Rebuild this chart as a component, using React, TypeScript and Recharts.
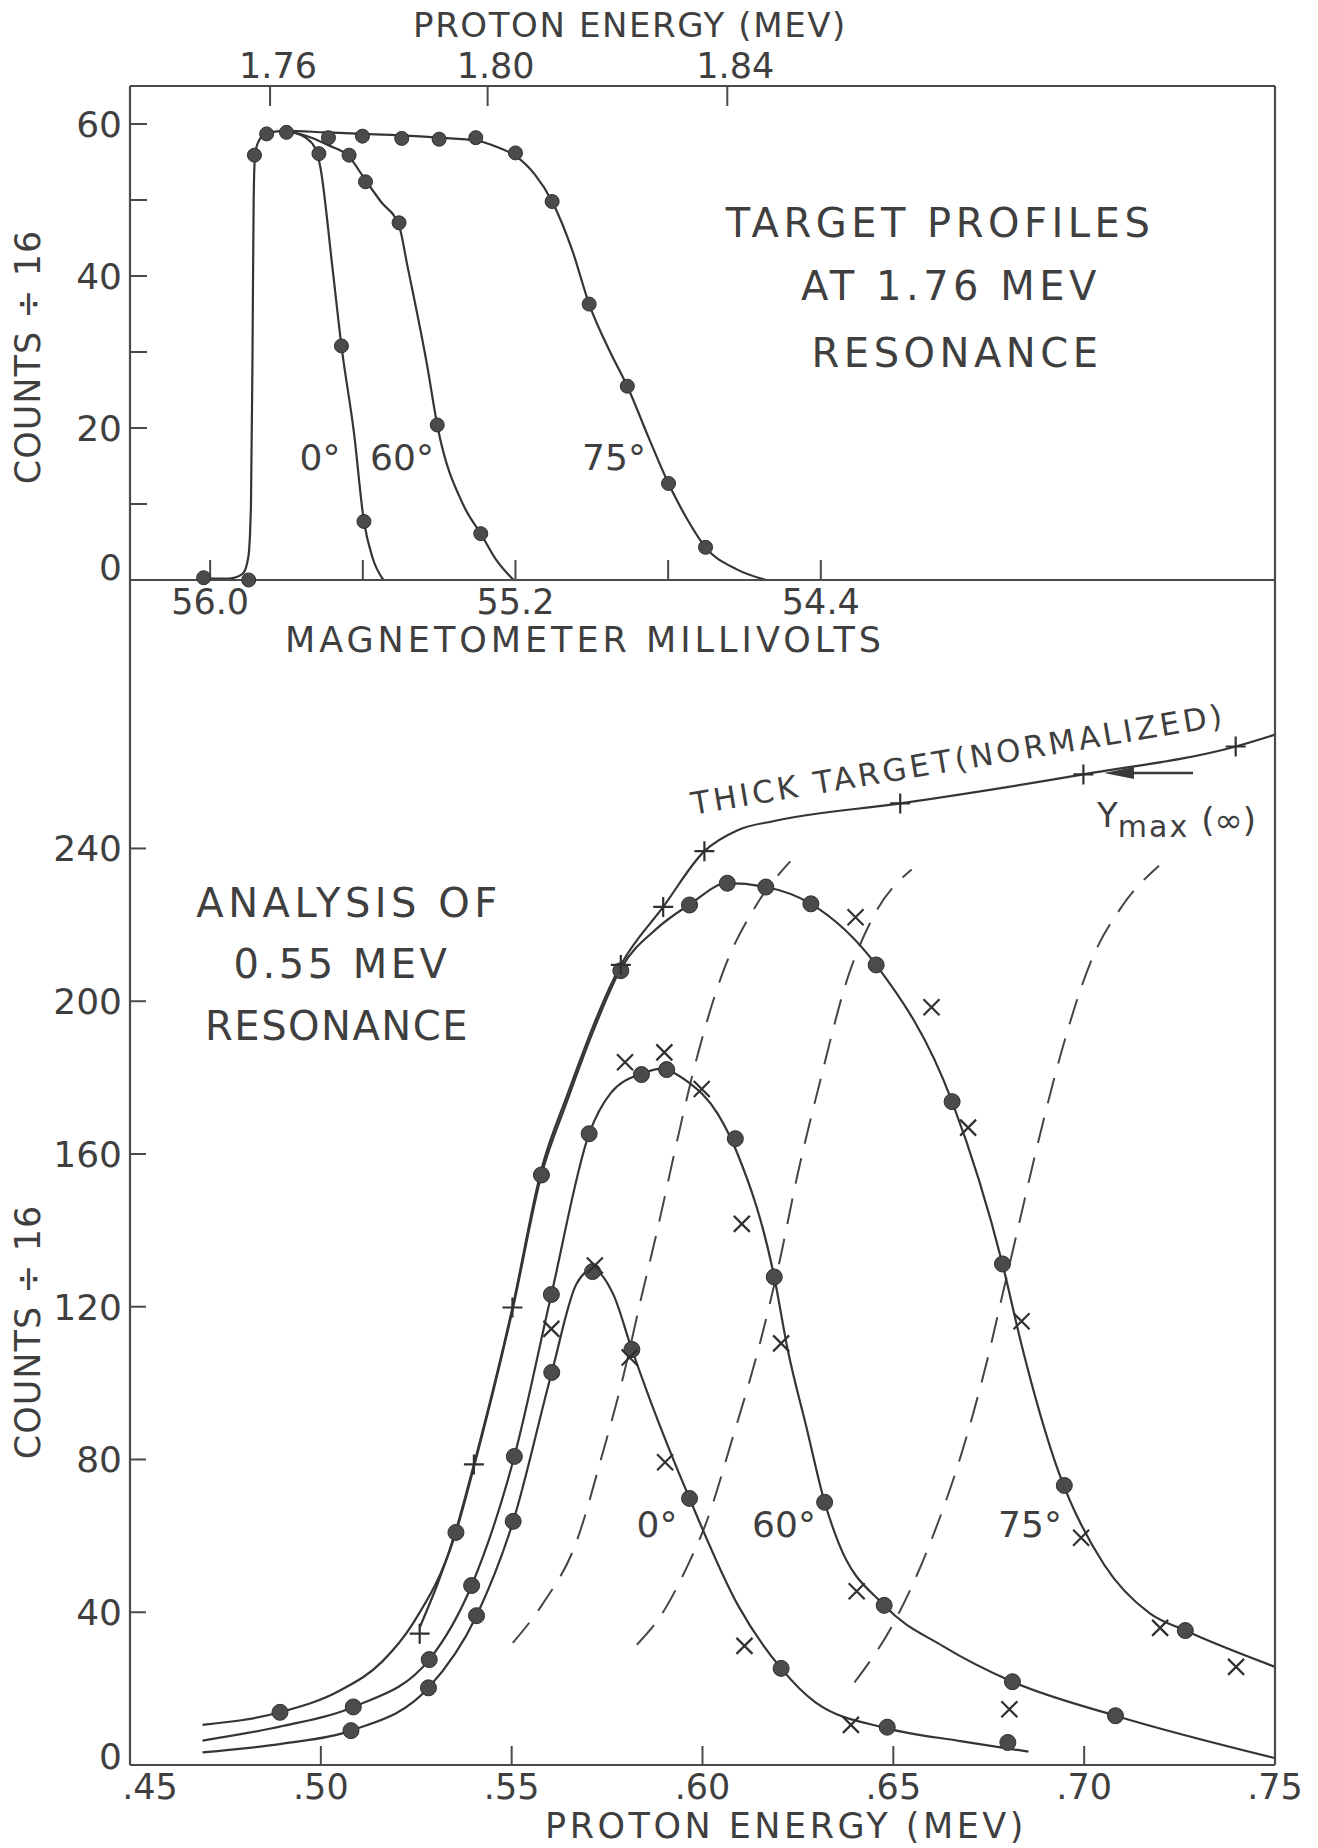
import React from 'react';
import { ComposedChart, Line, Scatter, XAxis, YAxis } from 'recharts';

type Pt = [number, number];

// ---------- top panel: target profiles at the 1.76 MeV resonance ----------
// x = magnetometer millivolts (axis runs high -> low), y = counts / 16
const mvTicks = [56.0, 55.6, 55.2, 54.8, 54.4];
const mvTickLabels = ['56.0', '', '55.2', '', '54.4'];
const energyTickMv = [55.843, 55.273, 54.645];
const energyTickLabels = ['1.76', '1.80', '1.84'];
const profileTicks = [0, 10, 20, 30, 40, 50, 60];

const profile75Curve: Pt[] = [
  [56.017, 0.2], [55.95, 0.2], [55.915, 0.8], [55.9, 3], [55.893, 10], [55.889, 30], [55.886, 50],
  [55.882, 56.2], [55.87, 58.0], [55.852, 58.8], [55.8, 59.1], [55.7, 58.9], [55.6, 58.7],
  [55.5, 58.5], [55.4, 58.2], [55.3, 57.8], [55.25, 57.0], [55.2, 55.8], [55.15, 53.4],
  [55.104, 49.8], [55.05, 43.2], [55.007, 36.3], [54.95, 29.8], [54.907, 25.5], [54.85, 18.6],
  [54.799, 12.7], [54.75, 8.0], [54.702, 4.3], [54.62, 1.4], [54.544, 0],
];
const profile0Curve: Pt[] = [
  [55.8, 59.1], [55.75, 58.2], [55.725, 56.8], [55.712, 54.5], [55.68, 41.3], [55.656, 30.8],
  [55.623, 19.3], [55.597, 7.7], [55.575, 3.0], [55.546, 0],
];
const profile60Curve: Pt[] = [
  [55.8, 59.1], [55.74, 58.3], [55.69, 57.2], [55.636, 55.7], [55.593, 52.6], [55.553, 49.8],
  [55.505, 46.6], [55.483, 41.3], [55.431, 28.1], [55.405, 20.4], [55.335, 9.7], [55.291, 6.1],
  [55.25, 2.6], [55.205, 0],
];
const profile75Dots: Pt[] = [
  [56.017, 0.3], [55.899, 0], [55.884, 55.9], [55.852, 58.7], [55.8, 58.9], [55.69, 58.2],
  [55.601, 58.4], [55.498, 58.1], [55.4, 58.0], [55.304, 58.2], [55.2, 56.2], [55.104, 49.8],
  [55.007, 36.3], [54.907, 25.5], [54.799, 12.7], [54.702, 4.3],
];
const profile0Dots: Pt[] = [[55.715, 56.1], [55.656, 30.8], [55.597, 7.7]];
const profile60Dots: Pt[] = [[55.636, 55.9], [55.593, 52.4], [55.505, 47.0], [55.405, 20.4], [55.291, 6.1]];

// ---------- bottom panel: analysis of the 0.55 MeV resonance ----------
const energyTicks = [0.45, 0.5, 0.55, 0.6, 0.65, 0.7, 0.75];
const countTicks = [0, 40, 80, 120, 160, 200, 240];

const curve0: Pt[] = [
  [0.469, 3.3], [0.49, 5.6], [0.5079, 9.0], [0.5282, 20.2], [0.5408, 39.1], [0.5504, 63.8],
  [0.5605, 102.8], [0.567, 126.0], [0.5712, 129.8], [0.5766, 123.3], [0.5815, 108.8], [0.5863, 95.5],
  [0.5966, 69.8], [0.6092, 42.0], [0.6206, 25.3], [0.6296, 16.4], [0.6484, 9.6], [0.668, 6.2], [0.6854, 3.5],
];
const curve60: Pt[] = [
  [0.469, 6.4], [0.49, 10.2], [0.5085, 15.2], [0.5284, 27.6], [0.5395, 47.0], [0.5507, 80.8],
  [0.5604, 123.2], [0.5703, 165.3], [0.576, 176.0], [0.584, 181.0], [0.589, 182.3], [0.596, 179.0],
  [0.604, 170.5], [0.6092, 160.0], [0.6188, 127.8], [0.6224, 108.4], [0.6272, 88.6], [0.632, 68.8],
  [0.6356, 58.3], [0.6476, 41.8], [0.6632, 31.0], [0.6812, 21.8], [0.7082, 12.9], [0.75, 1.8],
];
const curve75: Pt[] = [
  [0.469, 10.5], [0.4893, 13.8], [0.505, 19.5], [0.516, 27.0], [0.5241, 37.0], [0.5354, 60.9],
  [0.5401, 78.0], [0.5502, 119.0], [0.5578, 154.5], [0.5644, 173.5], [0.5715, 192.5], [0.5786, 208.5],
  [0.588, 219.0], [0.5966, 225.3], [0.6065, 230.9], [0.6166, 229.9], [0.6284, 225.5], [0.6455, 209.5],
  [0.6654, 173.7], [0.6786, 131.2], [0.6836, 110.0], [0.6932, 77.0], [0.7052, 52.5], [0.7172, 39.7],
  [0.7265, 35.2], [0.75, 25.7],
];
const thickCurve: Pt[] = [
  [0.5259, 36.0], [0.5354, 61.5], [0.5401, 78.7], [0.5502, 119.8], [0.5578, 156.0], [0.5644, 175.0],
  [0.5786, 209.5], [0.5897, 224.7], [0.6005, 239.3], [0.6092, 244.8], [0.6188, 247.2], [0.6518, 251.8],
  [0.6998, 259.4], [0.7397, 266.7], [0.75, 269.8],
];
const dash0: Pt[] = [
  [0.5503, 32.0], [0.558, 42.0], [0.5668, 58.0], [0.5738, 81.5], [0.5793, 102.0], [0.5841, 123.0],
  [0.5878, 138.5], [0.5937, 165.0], [0.5972, 180.0], [0.6055, 208.0], [0.614, 225.0], [0.623, 236.6],
];
const dash60: Pt[] = [
  [0.5828, 31.5], [0.589, 39.0], [0.596, 52.0], [0.6008, 63.0], [0.608, 86.0], [0.6152, 111.0],
  [0.62, 131.0], [0.625, 155.0], [0.6308, 179.0], [0.638, 206.0], [0.6452, 223.0], [0.6548, 234.5],
];
const dash75: Pt[] = [
  [0.6398, 21.6], [0.65, 37.0], [0.6596, 58.0], [0.668, 82.0], [0.6746, 106.0], [0.6788, 124.0],
  [0.683, 142.0], [0.6872, 160.0], [0.6944, 188.0], [0.7016, 210.0], [0.71, 225.0], [0.7196, 235.5],
];

const dots0: Pt[] = [
  [0.5079, 9.0], [0.5282, 20.2], [0.5408, 39.1], [0.5504, 63.8], [0.5605, 102.8], [0.5712, 129.2],
  [0.5815, 108.8], [0.5966, 69.8], [0.6206, 25.3], [0.6484, 9.9], [0.68, 5.9],
];
const dots60: Pt[] = [
  [0.5085, 15.2], [0.5284, 27.6], [0.5395, 47.0], [0.5507, 80.8], [0.5604, 123.2], [0.5703, 165.3],
  [0.584, 180.8], [0.5906, 182.1], [0.6086, 164.0], [0.6188, 127.8], [0.632, 68.8], [0.6476, 41.8],
  [0.6812, 21.8], [0.7082, 12.9],
];
const dots75: Pt[] = [
  [0.4893, 13.8], [0.5354, 60.9], [0.5578, 154.5], [0.5786, 208.0], [0.5966, 225.2], [0.6065, 230.9],
  [0.6166, 229.9], [0.6284, 225.5], [0.6455, 209.5], [0.6654, 173.7], [0.6786, 131.2], [0.6948, 73.2],
  [0.7265, 35.2],
];
const cross0: Pt[] = [[0.5718, 130.8], [0.5809, 106.7], [0.5902, 79.3], [0.611, 31.2], [0.6389, 10.5]];
const cross60: Pt[] = [
  [0.5604, 114.2], [0.5797, 184.0], [0.59, 186.6], [0.5998, 177.0], [0.6103, 141.7], [0.6206, 110.4],
  [0.6404, 45.5], [0.6804, 14.6],
];
const cross75: Pt[] = [[0.6401, 222.0], [0.66, 198.4], [0.6696, 166.9], [0.6836, 116.2], [0.6992, 59.5], [0.7199, 35.9], [0.7398, 25.7]];
const plusThick: Pt[] = [
  [0.5259, 34.4], [0.5401, 78.7], [0.5502, 119.8], [0.5786, 209.5], [0.5897, 224.7], [0.6005, 239.3],
  [0.6518, 251.8], [0.6998, 259.4], [0.7397, 266.7],
];

const FONT = "'DejaVu Sans', 'Liberation Sans', sans-serif";
const INK = '#3f3f3f';
const LINE = '#353535';
const AXIS = '#4a4a4a';

const toXY = (pts: Pt[]) => pts.map(([x, y]) => ({ x, y }));

const dotShape = (r: number) => (p: any) => (
  <circle cx={p.cx} cy={p.cy} r={r} fill="#4b4b4b" stroke="#2f2f2f" strokeWidth={1} />
);
const crossShape = (p: any) => {
  const s = 8;
  return (
    <path
      d={`M${p.cx - s},${p.cy - s}L${p.cx + s},${p.cy + s}M${p.cx - s},${p.cy + s}L${p.cx + s},${p.cy - s}`}
      stroke="#303030" strokeWidth={2.2} fill="none"
    />
  );
};
const plusShape = (p: any) => {
  const s = 10;
  return (
    <path
      d={`M${p.cx - s},${p.cy}L${p.cx + s},${p.cy}M${p.cx},${p.cy - s}L${p.cx},${p.cy + s}`}
      stroke="#303030" strokeWidth={2.2} fill="none"
    />
  );
};

const tickText = { fontSize: 35, fill: INK, fontFamily: FONT };

const leftTick = (labelOf: (v: number) => string, zeroLift: number) => (props: any) => {
  const { x, y, payload } = props;
  const label = labelOf(payload.value);
  if (!label) return <g />;
  const lift = payload.value === 0 ? zeroLift : 0;
  return (
    <text x={x} y={y - lift} dy="0.36em" textAnchor="end" {...tickText} fontSize={36}>{label}</text>
  );
};

const bottomTick = (labelOf: (v: number) => string, firstShift: number) => (props: any) => {
  const { x, y, payload, index } = props;
  const label = labelOf(payload.value);
  if (!label) return <g />;
  return (
    <text x={x + (index === 0 ? firstShift : 0)} y={y} dy="0.72em" textAnchor="middle" {...tickText}>{label}</text>
  );
};

const topTick = (props: any) => {
  const { x, y, payload } = props;
  const i = energyTickMv.findIndex((v) => Math.abs(v - payload.value) < 1e-6);
  return (
    <text x={x + 8} y={y} textAnchor="middle" {...tickText}>{energyTickLabels[i] ?? ''}</text>
  );
};

const W = 1318;
const H = 1848;
const PLOT_LEFT = 130;
const PLOT_RIGHT = 1275;
const TOP_Y0 = 86;
const MID_Y = 580;
const BOT_Y1 = 1765;
// axes get a 1px box (a zero-size axis is not drawn), so margins give that pixel back
const AX = 1;
const MV_DOMAIN: [number, number] = [53.21, 56.21];

const lineProps = { type: 'monotone' as const, dot: false, activeDot: false, isAnimationActive: false };

function TopPanel() {
  return (
    <ComposedChart
      width={W}
      height={H}
      margin={{ top: TOP_Y0 - AX, right: W - PLOT_RIGHT - AX, bottom: H - MID_Y - AX, left: PLOT_LEFT - AX }}
      style={{ position: 'absolute', left: 0, top: 0 }}
    >
      <XAxis
        xAxisId="mv" dataKey="x" type="number" reversed domain={MV_DOMAIN}
        ticks={mvTicks} interval={0} height={AX}
        axisLine={{ stroke: AXIS, strokeWidth: 2.2 }}
        tickLine={{ stroke: AXIS, strokeWidth: 2 }}
        tickSize={-20} tickMargin={29}
        tick={bottomTick((v) => mvTickLabels[mvTicks.indexOf(v)] || '', 0)}
      />
      <XAxis
        xAxisId="e" orientation="top" dataKey="x" type="number" reversed domain={MV_DOMAIN}
        ticks={energyTickMv} interval={0} height={AX}
        axisLine={{ stroke: AXIS, strokeWidth: 2.2 }}
        tickLine={{ stroke: AXIS, strokeWidth: 2 }}
        tickSize={-20} tickMargin={28}
        tick={topTick}
      />
      <YAxis
        yAxisId="c" dataKey="y" type="number" domain={[0, 65]} ticks={profileTicks} interval={0} width={AX}
        axisLine={{ stroke: AXIS, strokeWidth: 2.2 }}
        tickLine={{ stroke: AXIS, strokeWidth: 2 }}
        tickSize={-17} tickMargin={25}
        tick={leftTick((v) => (v % 20 === 0 ? String(v) : ''), 13)}
      />
      <YAxis
        yAxisId="r" orientation="right" type="number" domain={[0, 65]} width={AX}
        axisLine={{ stroke: AXIS, strokeWidth: 2.2 }} tick={false} tickLine={false}
      />
      {/* curves ride on the top (energy) axis, which shares the millivolt scale; dots on the bottom one */}
      <Line {...lineProps} xAxisId="e" yAxisId="c" data={toXY(profile75Curve)} dataKey="y" stroke={LINE} strokeWidth={2.2} />
      <Line {...lineProps} xAxisId="e" yAxisId="c" data={toXY(profile0Curve)} dataKey="y" stroke={LINE} strokeWidth={2.2} />
      <Line {...lineProps} xAxisId="e" yAxisId="c" data={toXY(profile60Curve)} dataKey="y" stroke={LINE} strokeWidth={2.2} />
      <Scatter xAxisId="mv" yAxisId="c" data={toXY(profile75Dots)} dataKey="y" shape={dotShape(7)} isAnimationActive={false} />
      <Scatter xAxisId="mv" yAxisId="c" data={toXY(profile0Dots)} dataKey="y" shape={dotShape(7)} isAnimationActive={false} />
      <Scatter xAxisId="mv" yAxisId="c" data={toXY(profile60Dots)} dataKey="y" shape={dotShape(7)} isAnimationActive={false} />
    </ComposedChart>
  );
}

function BottomPanel() {
  const fmt = (v: number) => v.toFixed(2).replace(/^0/, '');
  return (
    <ComposedChart
      width={W}
      height={H}
      margin={{ top: MID_Y, right: W - PLOT_RIGHT - AX, bottom: H - BOT_Y1 - AX, left: PLOT_LEFT - AX }}
      style={{ position: 'absolute', left: 0, top: 0 }}
    >
      <XAxis
        xAxisId="e" dataKey="x" type="number" domain={[0.45, 0.75]}
        ticks={energyTicks} interval={0} height={AX}
        axisLine={{ stroke: AXIS, strokeWidth: 2.2 }}
        tickLine={{ stroke: AXIS, strokeWidth: 2 }}
        tickSize={-19} tickMargin={28}
        tick={bottomTick(fmt, 20)}
      />
      <YAxis
        yAxisId="c" dataKey="y" type="number" domain={[0, 310.3]} ticks={countTicks} interval={0} width={AX}
        axisLine={{ stroke: AXIS, strokeWidth: 2.2 }}
        tickLine={{ stroke: AXIS, strokeWidth: 2 }}
        tickSize={-16} tickMargin={24}
        tick={leftTick((v) => String(v), 9)}
      />
      <YAxis
        yAxisId="r" orientation="right" type="number" domain={[0, 310.3]} width={AX}
        axisLine={{ stroke: AXIS, strokeWidth: 2.2 }} tick={false} tickLine={false}
      />
      <Line {...lineProps} xAxisId="e" yAxisId="c" data={toXY(dash0)} dataKey="y" stroke="#454545" strokeWidth={2} strokeDasharray="26 15" />
      <Line {...lineProps} xAxisId="e" yAxisId="c" data={toXY(dash60)} dataKey="y" stroke="#454545" strokeWidth={2} strokeDasharray="26 15" />
      <Line {...lineProps} xAxisId="e" yAxisId="c" data={toXY(dash75)} dataKey="y" stroke="#454545" strokeWidth={2} strokeDasharray="26 15" />
      <Line {...lineProps} xAxisId="e" yAxisId="c" data={toXY(thickCurve)} dataKey="y" stroke={LINE} strokeWidth={2.2} />
      <Line {...lineProps} xAxisId="e" yAxisId="c" data={toXY(curve75)} dataKey="y" stroke={LINE} strokeWidth={2.2} />
      <Line {...lineProps} xAxisId="e" yAxisId="c" data={toXY(curve60)} dataKey="y" stroke={LINE} strokeWidth={2.2} />
      <Line {...lineProps} xAxisId="e" yAxisId="c" data={toXY(curve0)} dataKey="y" stroke={LINE} strokeWidth={2.2} />
      <Scatter xAxisId="e" yAxisId="c" data={toXY(dots0)} dataKey="y" shape={dotShape(8)} isAnimationActive={false} />
      <Scatter xAxisId="e" yAxisId="c" data={toXY(dots60)} dataKey="y" shape={dotShape(8)} isAnimationActive={false} />
      <Scatter xAxisId="e" yAxisId="c" data={toXY(dots75)} dataKey="y" shape={dotShape(8)} isAnimationActive={false} />
      <Scatter xAxisId="e" yAxisId="c" data={toXY(cross0)} dataKey="y" shape={crossShape} isAnimationActive={false} />
      <Scatter xAxisId="e" yAxisId="c" data={toXY(cross60)} dataKey="y" shape={crossShape} isAnimationActive={false} />
      <Scatter xAxisId="e" yAxisId="c" data={toXY(cross75)} dataKey="y" shape={crossShape} isAnimationActive={false} />
      <Scatter xAxisId="e" yAxisId="c" data={toXY(plusThick)} dataKey="y" shape={plusShape} isAnimationActive={false} />
    </ComposedChart>
  );
}

function Annotations() {
  const t = { fill: INK, fontFamily: FONT };
  return (
    <svg width={W} height={H} style={{ position: 'absolute', left: 0, top: 0, pointerEvents: 'none' }}>
      {/* top panel */}
      <text x={630} y={37} textAnchor="middle" fontSize={34} letterSpacing={1.6} {...t}>PROTON ENERGY (MEV)</text>
      <text transform="translate(40,357) rotate(-90)" textAnchor="middle" fontSize={35} letterSpacing={1} {...t}>COUNTS ÷ 16</text>
      <text x={940} y={237} textAnchor="middle" fontSize={40} letterSpacing={4.5} {...t}>TARGET PROFILES</text>
      <text x={951} y={300} textAnchor="middle" fontSize={40} letterSpacing={4.5} {...t}>AT 1.76 MEV</text>
      <text x={957} y={367} textAnchor="middle" fontSize={40} letterSpacing={4.5} {...t}>RESONANCE</text>
      <text x={320} y={470} textAnchor="middle" fontSize={36} {...t}>0°</text>
      <text x={402} y={470} textAnchor="middle" fontSize={36} {...t}>60°</text>
      <text x={614} y={470} textAnchor="middle" fontSize={36} {...t}>75°</text>
      <text x={585} y={652} textAnchor="middle" fontSize={35} letterSpacing={4} {...t}>MAGNETOMETER MILLIVOLTS</text>
      {/* bottom panel */}
      <text x={349} y={917} textAnchor="middle" fontSize={40} letterSpacing={4.5} {...t}>ANALYSIS OF</text>
      <text x={342} y={978} textAnchor="middle" fontSize={40} letterSpacing={3.5} {...t}>0.55 MEV</text>
      <text x={337} y={1040} textAnchor="middle" fontSize={40} letterSpacing={1.5} {...t}>RESONANCE</text>
      <text transform="translate(960,770) rotate(-9.5)" textAnchor="middle" fontSize={31} letterSpacing={3.5} {...t}>THICK TARGET(NORMALIZED)</text>
      <text x={1097} y={827} fontSize={34} {...t}>
        Y<tspan fontSize={30} dy={10} letterSpacing={2}>max</tspan>
        <tspan fontSize={34} dx={12} dy={-5}>(∞)</tspan>
      </text>
      <line x1={1193} y1={773} x2={1118} y2={773} stroke="#3a3a3a" strokeWidth={2.5} />
      <polygon points="1104,773 1134,767 1134,779" fill="#3a3a3a" />
      <text x={657} y={1537} textAnchor="middle" fontSize={36} {...t}>0°</text>
      <text x={784} y={1537} textAnchor="middle" fontSize={36} {...t}>60°</text>
      <text x={1030} y={1537} textAnchor="middle" fontSize={36} {...t}>75°</text>
      <text transform="translate(40,1332) rotate(-90)" textAnchor="middle" fontSize={35} letterSpacing={1} {...t}>COUNTS ÷ 16</text>
      <text x={786} y={1838} textAnchor="middle" fontSize={35} letterSpacing={3.5} {...t}>PROTON ENERGY (MEV)</text>
    </svg>
  );
}

export default function App() {
  return (
    <div style={{ position: 'absolute', left: 0, top: 0, width: W, height: H, background: '#ffffff', overflow: 'hidden' }}>
      <TopPanel />
      <BottomPanel />
      <Annotations />
    </div>
  );
}
